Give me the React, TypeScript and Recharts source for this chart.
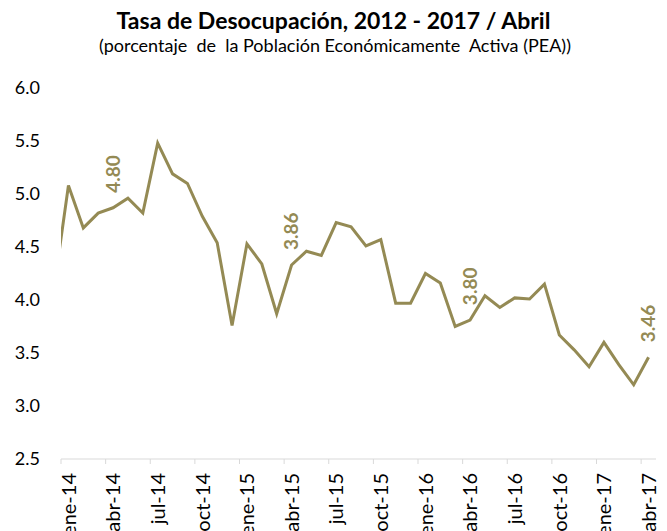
import React from 'react';
import { LineChart, Line, XAxis, YAxis, LabelList } from 'recharts';

const MONTHS = [
  'dic-13',
  'ene-14', 'feb-14', 'mar-14', 'abr-14', 'may-14', 'jun-14', 'jul-14', 'ago-14', 'sep-14', 'oct-14', 'nov-14', 'dic-14',
  'ene-15', 'feb-15', 'mar-15', 'abr-15', 'may-15', 'jun-15', 'jul-15', 'ago-15', 'sep-15', 'oct-15', 'nov-15', 'dic-15',
  'ene-16', 'feb-16', 'mar-16', 'abr-16', 'may-16', 'jun-16', 'jul-16', 'ago-16', 'sep-16', 'oct-16', 'nov-16', 'dic-16',
  'ene-17', 'feb-17', 'mar-17', 'abr-17',
];

const RATE = [
  4.08,
  5.08, 4.68, 4.82, 4.87, 4.96, 4.82, 5.48, 5.19, 5.10, 4.79, 4.54, 3.76,
  4.53, 4.34, 3.87, 4.33, 4.46, 4.42, 4.73, 4.69, 4.51, 4.57, 3.97, 3.97,
  4.25, 4.16, 3.75, 3.81, 4.04, 3.93, 4.02, 4.01, 4.15, 3.67, 3.53, 3.37,
  3.60, 3.39, 3.20, 3.46,
];

const TICK_LABELS = [
  'ene-14', 'abr-14', 'jul-14', 'oct-14', 'ene-15', 'abr-15', 'jul-15',
  'oct-15', 'ene-16', 'abr-16', 'jul-16', 'oct-16', 'ene-17', 'abr-17',
];

const POINT_LABELS: Record<string, string> = {
  'abr-14': '4.80',
  'abr-15': '3.86',
  'abr-16': '3.80',
  'abr-17': '3.46',
};

const Y_TICKS = [2.5, 3.0, 3.5, 4.0, 4.5, 5.0, 5.5, 6.0];

const TITLE = 'Tasa de Desocupación, 2012 - 2017 / Abril';
const SUBTITLE = '(porcentaje  de  la Población Económicamente  Activa (PEA))';

const COLOR = '#948A54';
const FONT = 'Lato, "Open Sans", sans-serif';

const data = MONTHS.map((m, i) => ({
  t: i - 1,
  month: m,
  v: RATE[i],
  lbl: POINT_LABELS[m] || '',
}));

const centerTicks = TICK_LABELS.map((l) => MONTHS.indexOf(l) - 1);
const boundaryTicks = centerTicks.map((t) => t - 0.5);
const DOMAIN: [number, number] = [-0.5, MONTHS.length - 1.5];

const MonthTick = (props: any) => {
  const { x, y, payload } = props;
  const idx = centerTicks.indexOf(payload.value);
  const label = idx >= 0 ? TICK_LABELS[idx] : '';
  return (
    <g transform={`translate(${x},${y})`}>
      <text
        transform="rotate(-90)"
        textAnchor="end"
        dy="0.36em"
        fontFamily={FONT}
        fontSize={20}
        fill="#000"
      >
        {label}
      </text>
    </g>
  );
};

const EmptyTick = () => <g />;

const PointLabel = (props: any) => {
  const { x, y, value } = props;
  if (!value) return null;
  return (
    <g transform={`translate(${x},${y - 15})`}>
      <text
        transform="rotate(-90)"
        textAnchor="start"
        dy="0.36em"
        fontFamily={FONT}
        fontSize={19}
        fontWeight="bold"
        fill={COLOR}
      >
        {value}
      </text>
    </g>
  );
};

export default function App() {
  return (
    <div style={{ position: 'absolute', left: 0, top: 0, width: 667, height: 531, background: '#fff' }}>
      <svg width={667} height={60} style={{ position: 'absolute', left: 0, top: 0 }}>
        <text x={333.5} y={29} textAnchor="middle" fontFamily={FONT} fontWeight="bold" fontSize={23} fill="#000">
          {TITLE}
        </text>
        <text x={335} y={52} textAnchor="middle" fontFamily={FONT} fontSize={18} fill="#000" style={{ whiteSpace: 'pre' }}>
          {SUBTITLE}
        </text>
      </svg>
      <div style={{ position: 'absolute', left: 0, top: 0 }}>
        <LineChart width={667} height={531} data={data} margin={{ top: 88, right: 11, left: 0, bottom: 0 }}>
          <XAxis
            xAxisId="b"
            dataKey="t"
            type="number"
            domain={DOMAIN}
            allowDataOverflow
            ticks={boundaryTicks}
            interval={0}
            height={1}
            tick={EmptyTick}
            tickSize={5}
            tickLine={{ stroke: '#d9d9d9' }}
            axisLine={{ stroke: '#d9d9d9' }}
          />
          <XAxis
            xAxisId="c"
            dataKey="t"
            type="number"
            domain={DOMAIN}
            allowDataOverflow
            ticks={centerTicks}
            interval={0}
            height={71}
            tick={MonthTick}
            tickSize={0}
            tickMargin={13}
            tickLine={false}
            axisLine={false}
          />
          <YAxis
            domain={[2.5, 6]}
            ticks={Y_TICKS}
            interval={0}
            width={61}
            axisLine={false}
            tickLine={false}
            tickSize={0}
            tickMargin={21}
            tickFormatter={(v: number) => v.toFixed(1)}
            tick={{ fontFamily: FONT, fontSize: 18, fill: '#000' }}
          />
          <Line
            xAxisId="b"
            dataKey="v"
            type="linear"
            stroke={COLOR}
            strokeWidth={3}
            dot={false}
            activeDot={false}
            isAnimationActive={false}
          >
            <LabelList dataKey="lbl" content={PointLabel} />
          </Line>
        </LineChart>
      </div>
    </div>
  );
}
